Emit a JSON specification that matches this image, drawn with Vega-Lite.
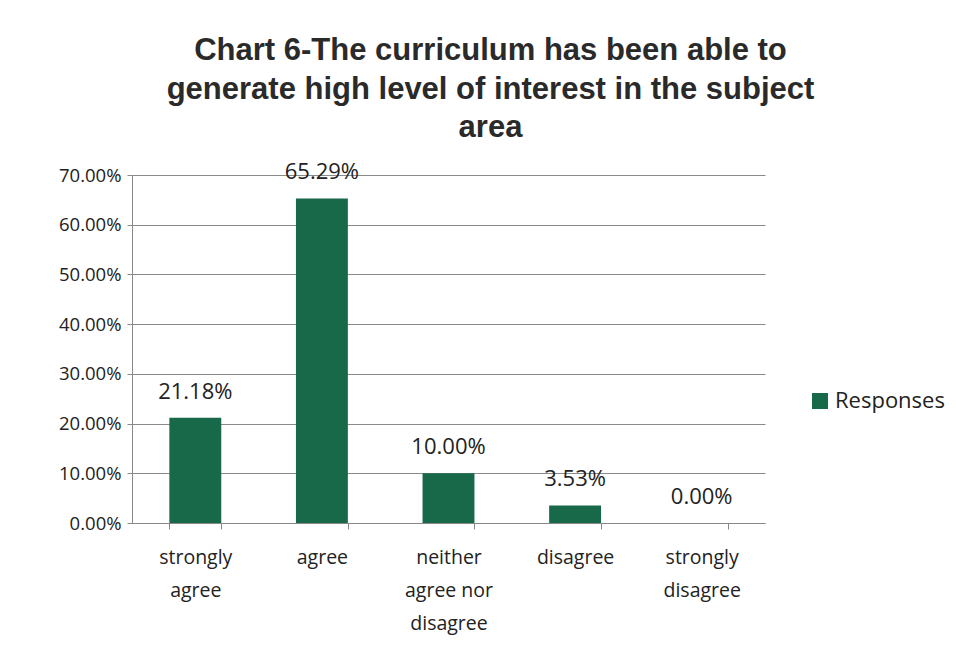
{
  "$schema": "https://vega.github.io/schema/vega-lite/v6.json",
  "autosize": "none",
  "width": 633,
  "height": 348,
  "padding": {"left": 132, "top": 175, "right": 191, "bottom": 126},
  "background": "#ffffff",
  "title": {
    "text": ["Chart 6-The curriculum has been able to", "generate high level of  interest in the subject", "area"],
    "font": "Liberation Sans",
    "fontSize": 31,
    "fontWeight": "bold",
    "color": "#2a2a2a",
    "lineHeight": 38.5,
    "anchor": "middle",
    "dx": 42,
    "offset": 17
  },
  "data": {
    "values": [
      {"category": "strongly|agree", "value": 0.2118, "series": "Responses"},
      {"category": "agree", "value": 0.6529, "series": "Responses"},
      {"category": "neither|agree nor|disagree", "value": 0.10, "series": "Responses"},
      {"category": "disagree", "value": 0.0353, "series": "Responses"},
      {"category": "strongly|disagree", "value": 0.0, "series": "Responses"}
    ]
  },
  "encoding": {
    "x": {
      "field": "category",
      "type": "nominal",
      "sort": null,
      "scale": {"paddingInner": 0.59, "paddingOuter": 0.295},
      "axis": {
        "title": null,
        "labelAngle": 0,
        "labelExpr": "split(datum.label, '|')",
        "labelFont": "Open Sans",
        "labelFontSize": 19.5,
        "labelColor": "#222222",
        "labelLineHeight": 33,
        "labelPadding": 19,
        "labelBaseline": "top",
        "tickBand": "extent",
        "tickSize": 6,
        "tickColor": "#888888",
        "domainColor": "#888888",
        "grid": false
      }
    },
    "y": {
      "field": "value",
      "type": "quantitative",
      "scale": {"domain": [0, 0.7], "nice": false},
      "axis": {
        "title": null,
        "format": ".2%",
        "values": [0, 0.1, 0.2, 0.3, 0.4, 0.5, 0.6, 0.7],
        "labelFont": "Open Sans",
        "labelFontSize": 18.5,
        "labelColor": "#222222",
        "labelPadding": 6,
        "tickSize": 5,
        "tickColor": "#888888",
        "domainColor": "#888888",
        "gridColor": "#8a8a8a",
        "gridWidth": 1
      }
    }
  },
  "layer": [
    {
      "mark": {"type": "bar", "color": "#18694a"},
      "encoding": {
        "color": {
          "field": "series",
          "type": "nominal",
          "scale": {"range": ["#18694a"]},
          "legend": {
            "title": null,
            "orient": "none",
            "legendX": 677,
            "legendY": 215,
            "symbolType": "square",
            "symbolSize": 256,
            "symbolStrokeWidth": 0,
            "labelFont": "Open Sans",
            "labelFontSize": 22,
            "labelColor": "#222222",
            "labelOffset": 4,
            "padding": 0
          }
        }
      }
    },
    {
      "mark": {"type": "text", "baseline": "alphabetic", "dy": -19, "font": "Open Sans", "fontSize": 22, "color": "#222222"},
      "encoding": {
        "text": {"field": "value", "type": "quantitative", "format": ".2%"}
      }
    }
  ],
  "config": {"view": {"stroke": null}}
}
